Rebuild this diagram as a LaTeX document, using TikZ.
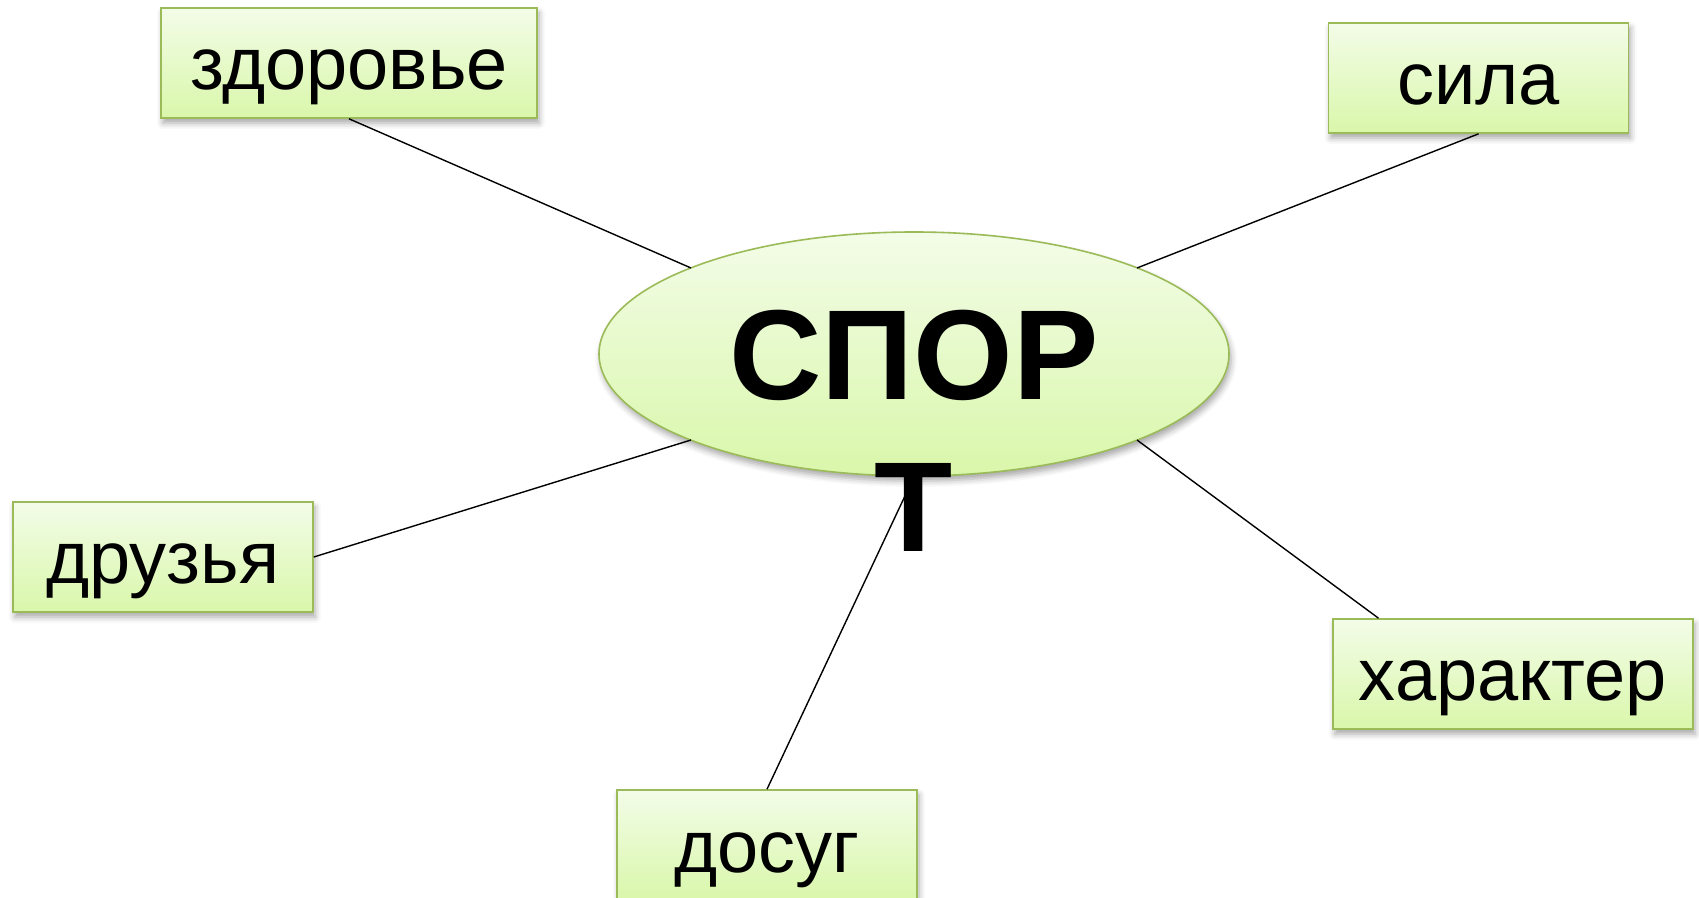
\documentclass[tikz,border=0pt]{standalone}
\usepackage{fontspec}
\setmainfont{Liberation Sans}
\usetikzlibrary{shadows.blur,calc,shapes.geometric}
\definecolor{leafline}{HTML}{9BBB59}
\definecolor{leaftop}{HTML}{F3FCE8}
\definecolor{leafbot}{HTML}{D9F7AA}
\tikzset{
  leafshade/.style={top color=leaftop, bottom color=leafbot, draw=leafline, line width=0.8pt,
    blur shadow={shadow xshift=1pt, shadow yshift=-2.5pt, shadow blur radius=3pt, shadow opacity=35}},
  wordbox/.style={leafshade, rectangle, inner sep=0pt, minimum height=55pt,
    text height=27pt, text depth=0pt, font=\fontsize{37}{44}\selectfont},
  hub/.style={leafshade, ellipse, inner sep=0pt, minimum width=315pt, minimum height=122pt},
  link/.style={draw=black, line width=0.7pt},
}
\begin{document}
\begin{tikzpicture}[x=0.5pt, y=-0.5pt]
\useasboundingbox (0,0) rectangle (1699,898);

% central topic
\node[hub] (sport) at (914,354) {};
\coordinate (nw) at (691,268);
\coordinate (ne) at (1137,268);
\coordinate (sw) at (691,440);
\coordinate (se) at (1137,440);

% surrounding words
\node[wordbox, minimum width=188pt] (zd) at (349,63) {здоровье};
\node[wordbox, minimum width=150pt] (si) at (1478.6,78) {сила};
\node[wordbox, minimum width=150pt] (dr) at (163,557) {друзья};
\node[wordbox, minimum width=180pt] (kh) at (1513,674) {характер};
\node[wordbox, minimum width=150pt] (do) at (767,845) {досуг};
\coordinate (khtop) at ($(kh.north west)!0.128!(kh.north east)$);

% connectors
\draw[link] (zd.south) -- (nw);
\draw[link] (si.south) -- (ne);
\draw[link] (dr.east) -- (sw);
\draw[link] (khtop) -- (se);
\draw[link] (do.north) -- (sport.south);

% title text, wrapped onto two lines
\node[align=center, inner sep=0pt, font=\bfseries\fontsize{64}{76}\selectfont] (title) at (914,431) {СПОР\\Т};
\end{tikzpicture}
\end{document}
